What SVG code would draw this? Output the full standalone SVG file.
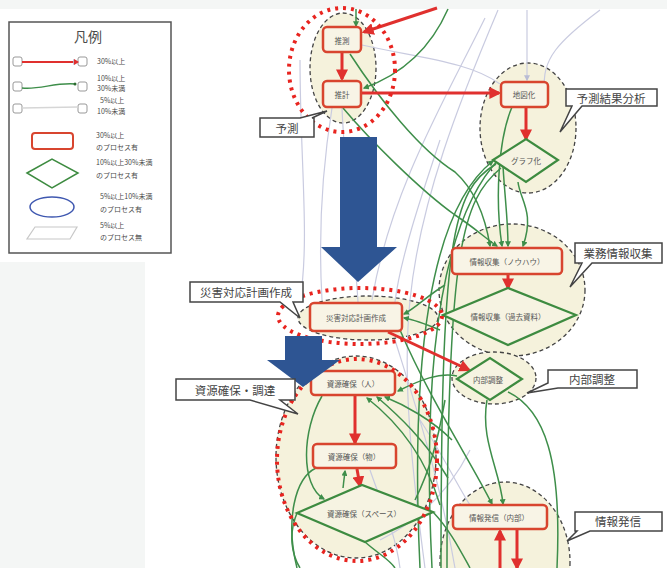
<svg xmlns="http://www.w3.org/2000/svg" width="667" height="568" viewBox="0 0 667 568">
  <style>
    text { font-family: "Noto Sans CJK JP", "Noto Sans", sans-serif; fill: #4a4a4a; }
    .lg { font-size: 7px; }
    .nt { font-size: 7.5px; text-anchor: middle; dominant-baseline: central; fill: #555; }
    .lb { font-size: 11.5px; text-anchor: middle; dominant-baseline: central; fill: #444; }
    .grp { fill: #f5f2dc; stroke: #444; stroke-width: 1.3; stroke-dasharray: 4 3; }
    .hot { fill: none; stroke: #e8241f; stroke-width: 4; stroke-dasharray: 3 5; }
    .rn { fill: #f8f4e6; stroke: #d8452f; stroke-width: 2.5; }
    .gn { fill: #f6f3e2; stroke: #3d8b40; stroke-width: 2.2; }
    .ra { fill: none; stroke: #e0302e; stroke-width: 3; marker-end: url(#ar); }
    .ga { fill: none; stroke: #3e8e4a; stroke-width: 1.5; marker-end: url(#ag); }
    .gl { fill: none; stroke: #3e8e4a; stroke-width: 1.5; }
    .pl { fill: none; stroke: #c9cbe0; stroke-width: 1.2; }
    .co { fill: #fff; stroke: #444; stroke-width: 1.5; }
    .blue { fill: #2e5593; }
  </style>
  <defs>
    <marker id="ar" viewBox="0 0 10 10" refX="8" refY="5" markerWidth="12" markerHeight="12" markerUnits="userSpaceOnUse" orient="auto">
      <path d="M0,0 L10,5 L0,10 z" fill="#e0302e"/>
    </marker>
    <marker id="ag" viewBox="0 0 10 10" refX="8" refY="5" markerWidth="6" markerHeight="6" markerUnits="userSpaceOnUse" orient="auto">
      <path d="M0,0 L10,5 L0,10 z" fill="#3e8e4a"/>
    </marker>
    <marker id="al" viewBox="0 0 10 10" refX="8" refY="5" markerWidth="6" markerHeight="6" markerUnits="userSpaceOnUse" orient="auto">
      <path d="M0,0 L10,5 L0,10 z" fill="#b9bcd4"/>
    </marker>
  </defs>

  <!-- page background -->
  <rect x="0" y="0" width="667" height="568" fill="#ffffff"/>
  <rect x="0" y="0" width="667" height="9" fill="#f4f6f5"/>
  <rect x="0" y="262" width="145" height="306" fill="#f4f6f5"/>

  <!-- legend -->
  <g id="legend">
    <rect x="9" y="22" width="162" height="231" fill="#fff" stroke="#555" stroke-width="1.5"/>
    <text x="88" y="42" font-size="14" text-anchor="middle">凡例</text>
    <rect x="13" y="57" width="9" height="9" rx="2" fill="#fff" stroke="#999"/>
    <rect x="78" y="57" width="9" height="9" rx="2" fill="#fff" stroke="#999"/>
    <line x1="22" y1="62" x2="78" y2="62" stroke="#e0302e" stroke-width="2" marker-end="url(#al)"/>
    <path d="M74,59 L79,62 L74,65 z" fill="#e0302e"/>
    <text class="lg" x="97" y="64">30%以上</text>
    <rect x="13" y="82" width="9" height="9" rx="2" fill="#fff" stroke="#999"/>
    <rect x="78" y="82" width="9" height="9" rx="2" fill="#fff" stroke="#999"/>
    <path d="M22,88 C40,90 55,82 76,84" fill="none" stroke="#3e8e4a" stroke-width="1.3"/>
    <circle cx="75" cy="84" r="1.5" fill="#2a6a30"/>
    <text class="lg" x="97" y="81">10%以上</text>
    <text class="lg" x="97" y="91">30%未満</text>
    <rect x="13" y="104" width="9" height="9" rx="2" fill="#fff" stroke="#999"/>
    <rect x="78" y="104" width="9" height="9" rx="2" fill="#fff" stroke="#999"/>
    <line x1="22" y1="108" x2="78" y2="107" stroke="#d6d6d6" stroke-width="1.3"/>
    <text class="lg" x="100" y="103">5%以上</text>
    <text class="lg" x="97" y="114">10%未満</text>
    <rect x="32" y="133" width="41" height="16" rx="3" fill="#fff" stroke="#d8452f" stroke-width="2"/>
    <text class="lg" x="96" y="138">30%以上</text>
    <text class="lg" x="96" y="150">のプロセス有</text>
    <polygon points="27,173 52,159 78,173 52,188" fill="#fff" stroke="#3d8b40" stroke-width="1.5"/>
    <text class="lg" x="96" y="165">10%以上30%未満</text>
    <text class="lg" x="96" y="178">のプロセス有</text>
    <ellipse cx="52" cy="207" rx="22" ry="10" fill="#fff" stroke="#3f58b0" stroke-width="1.5"/>
    <text class="lg" x="100" y="199">5%以上10%未満</text>
    <text class="lg" x="100" y="212">のプロセス有</text>
    <polygon points="35,227 77,227 70,239 27,239" fill="#fff" stroke="#c8c8c8" stroke-width="1.2"/>
    <text class="lg" x="100" y="228">5%以上</text>
    <text class="lg" x="100" y="240">のプロセス無</text>
  </g>

  <!-- group areas -->
  <g id="areas">
    <ellipse class="grp" cx="343" cy="68" rx="33" ry="55"/>
    <ellipse class="grp" cx="528" cy="128" rx="48" ry="65"/>
    <ellipse class="grp" cx="512" cy="290" rx="73" ry="66"/>
    <ellipse class="grp" cx="368" cy="318" rx="70" ry="22"/>
    <ellipse class="grp" cx="494" cy="378" rx="42" ry="26"/>
    <ellipse class="grp" cx="356" cy="457" rx="80" ry="101"/>
    <ellipse class="grp" cx="505" cy="562" rx="65" ry="80"/>
  </g>

  <!-- connectors -->
  <g id="connectors">
    <!-- weak links -->
    <path class="pl" d="M362,45 C420,58 470,62 500,84"/>
    <path class="pl" d="M498,10 C460,100 420,200 410,300 C402,380 412,470 425,568"/>
    <path class="pl" d="M485,18 C450,90 390,190 372,300"/>
    <path class="pl" d="M527,10 L527,80" marker-end="url(#al)"/>
    <path class="pl" d="M342,108 C345,180 355,250 358,302"/>
    <path class="pl" d="M332,108 C322,170 318,230 322,300"/>
    <path class="pl" d="M300,60 C300,160 310,240 300,300"/>
    <path class="pl" d="M420,420 C440,450 460,490 470,505"/>
    <path class="pl" d="M395,340 C420,420 440,480 455,568"/>
    <path class="pl" d="M380,540 C420,520 450,490 470,450"/>
    <path class="pl" d="M440,140 C420,200 400,260 395,302"/>
    <path class="pl" d="M600,10 C560,40 540,60 545,90"/>
    <path class="pl" d="M370,470 C380,500 395,530 400,568"/>
    <!-- medium links -->
    <path class="ga" d="M356,9 L356,26"/>
    <path class="ga" d="M448,9 C430,50 400,75 364,88"/>
    <path class="ga" d="M350,54 C380,100 420,150 455,172 C475,190 485,215 490,246"/>
    <path class="ga" d="M343,108 C370,140 420,190 455,215 C475,228 485,238 497,246"/>
    <path class="ga" d="M512,107 C498,140 495,200 502,246"/>
    <path class="ga" d="M503,166 C505,200 508,220 508,246"/>
    <path class="ga" d="M518,182 C520,200 535,212 523,246"/>
    <path class="ga" d="M420,568 C410,360 430,210 493,161"/>
    <path class="ga" d="M432,568 C422,370 440,220 500,158"/>
    <path class="gl" d="M496,164 C452,190 441,240 441,568"/>
    <path class="gl" d="M501,168 C462,200 447,250 447,568"/>
    <path class="ga" d="M445,285 C428,295 416,308 404,314"/>
    <path class="ga" d="M440,330 C428,325 416,320 404,318"/>
    <path class="ga" d="M457,376 C440,372 420,380 398,391"/>
    <path class="ga" d="M440,505 C425,455 395,420 367,398"/>
    <path class="ga" d="M448,478 C425,440 398,415 377,397"/>
    <path class="ga" d="M452,440 C432,420 405,405 385,397"/>
    <path class="ga" d="M322,396 C302,430 300,485 324,499"/>
    <path class="gl" d="M316,468 C295,478 285,520 297,568"/>
    <path class="ga" d="M343,488 L345,471"/>
    <path class="gl" d="M297,513 C288,535 292,555 300,568"/>
    <path class="gl" d="M433,512 C450,530 460,550 470,568"/>
    <path class="ga" d="M487,400 C480,440 500,470 503,504"/>
    <path class="gl" d="M508,392 C545,410 562,460 557,568"/>
    <path class="ga" d="M400,330 C430,400 470,460 492,504"/>
    <path class="gl" d="M415,500 C430,470 438,440 445,400"/>
    <path class="gl" d="M365,542 C380,555 390,560 395,568"/>
    <!-- strong links -->
    <path class="ra" d="M437,8 L364,32"/>
    <path class="ra" d="M342,53 L342,79"/>
    <path class="ra" d="M362,93 L499,93"/>
    <path class="ra" d="M526,108 L526,139"/>
    <path class="ra" d="M508,274 L508,288"/>
    <path class="ra" d="M388,332 L469,370"/>
    <path class="ra" d="M355,396 L355,443"/>
    <path class="ra" d="M357,469 L360,486"/>
    <path class="ra" d="M500,568 L500,531"/>
    <path class="ra" d="M517,530 L517,568"/>
  </g>

  <!-- process nodes -->
  <g id="n-suisoku"><rect class="rn" x="323" y="27" width="38" height="25" rx="4"/><text class="nt" x="342" y="40">推測</text></g>
  <g id="n-suikei"><rect class="rn" x="323" y="81" width="38" height="26" rx="4"/><text class="nt" x="342" y="94">推計</text></g>
  <g id="n-chizuka"><rect class="rn" x="501" y="82" width="47" height="25" rx="4"/><text class="nt" x="524" y="94">地図化</text></g>
  <g id="n-graph"><polygon class="gn" points="493,160 526,139 558,160 526,182"/><text class="nt" x="526" y="160">グラフ化</text></g>
  <g id="n-knowhow"><rect class="rn" x="452" y="248" width="110" height="26" rx="4"/><text class="nt" x="507" y="261">情報収集（ノウハウ）</text></g>
  <g id="n-kako"><polygon class="gn" points="443,315 508,288 576,315 508,345"/><text class="nt" x="508" y="316">情報収集（過去資料）</text></g>
  <g id="n-keikaku"><rect class="rn" x="310" y="303" width="92" height="28" rx="4"/><text class="nt" x="356" y="317">災害対応計画作成</text></g>
  <g id="n-naibu"><polygon class="gn" points="457,379 490,358 522,379 490,400"/><text class="nt" x="488" y="379">内部調整</text></g>
  <g id="n-hito"><rect class="rn" x="311" y="371" width="84" height="24" rx="4"/><text class="nt" x="353" y="383">資源確保（人）</text></g>
  <g id="n-mono"><rect class="rn" x="313" y="444" width="83" height="24" rx="4"/><text class="nt" x="354" y="456">資源確保（物）</text></g>
  <g id="n-space"><polygon class="gn" points="297,513 362,485 433,512 365,542"/><text class="nt" x="364" y="513">資源確保（スペース）</text></g>
  <g id="n-hasshin"><rect class="rn" x="453" y="505" width="94" height="24" rx="4"/><text class="nt" x="499" y="517">情報発信（内部）</text></g>

  <!-- highlighted areas -->
  <g id="highlights">
    <ellipse class="hot" cx="342" cy="70" rx="53" ry="62"/>
    <ellipse class="hot" cx="360" cy="316" rx="82" ry="28"/>
    <ellipse class="hot" cx="357" cy="460" rx="80" ry="101"/>
  </g>

  <!-- flow arrows -->
  <g id="flow-arrows">
    <polygon class="blue" points="340,137 377,137 377,247 397,247 358,282 321,247 340,247"/>
    <polygon class="blue" points="285,336 322,336 322,360 340,360 303,387 267,360 285,360"/>
  </g>

  <!-- callout labels -->
  <g id="label-yosoku"><path class="co" d="M260,118 H300 L327,111 L312,118 H314 V137 H260 Z"/><text class="lb" x="287" y="128">予測</text></g>
  <g id="label-bunseki"><path class="co" d="M566,89 H657 V106 H582 L560,132 L572,106 H566 Z"/><text class="lb" x="611" y="98">予測結果分析</text></g>
  <g id="label-gyomu"><path class="co" d="M575,243 H662 V263 H592 L570,287 L582,263 H575 Z"/><text class="lb" x="618" y="253">業務情報収集</text></g>
  <g id="label-keikaku"><path class="co" d="M190,282 H303 V302 H293 L300,318 L280,302 H190 Z"/><text class="lb" x="246" y="292">災害対応計画作成</text></g>
  <g id="label-naibu"><path class="co" d="M548,370 H637 V388 H558 L527,393 L548,383 Z"/><text class="lb" x="592" y="379">内部調整</text></g>
  <g id="label-shigen"><path class="co" d="M176,379 H295 V400 H280 L298,414 L250,400 H176 Z"/><text class="lb" x="235" y="390">資源確保・調達</text></g>
  <g id="label-hasshin"><path class="co" d="M575,512 H662 V531 H590 L567,541 L577,531 H575 Z"/><text class="lb" x="618" y="521">情報発信</text></g>
</svg>
